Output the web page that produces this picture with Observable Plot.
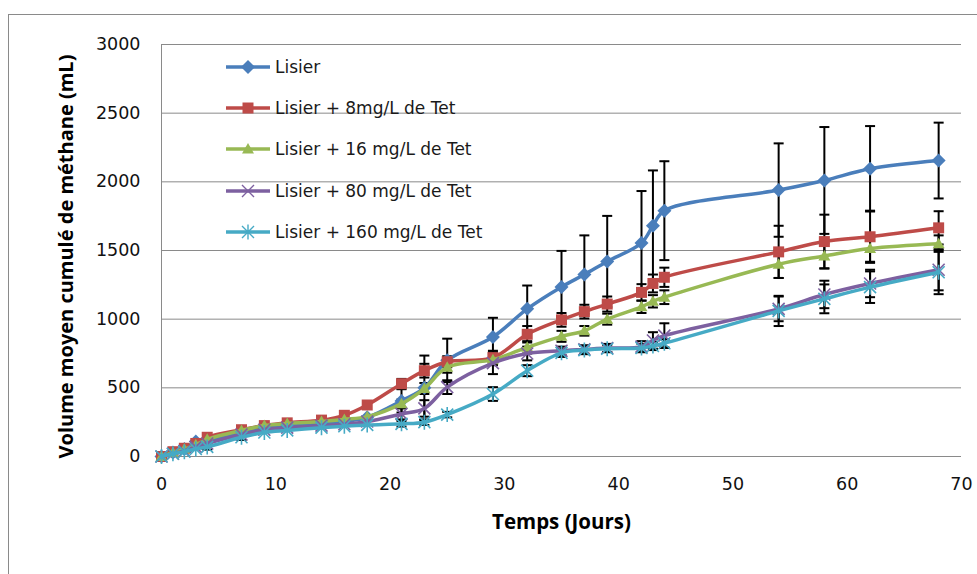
<!DOCTYPE html>
<html>
<head>
<meta charset="utf-8">
<script src="https://cdn.jsdelivr.net/npm/d3@7"></script>
<script src="https://cdn.jsdelivr.net/npm/@observablehq/plot@0.6"></script>
<style>
  html, body { margin: 0; padding: 0; background: #fff; }
  body { width: 977px; height: 574px; overflow: hidden; position: relative; }
  #frame { position: absolute; left: 8px; top: 14px; width: 1100px; height: 700px; border: 1px solid #8a8a8a; box-sizing: border-box; }
  #chart { position: absolute; left: 0; top: 0; }
  #legend { position: absolute; left: 222px; top: 56px; font-family: "DejaVu Sans", sans-serif; font-size: 17px; color: #1a1a1a; }
  #legend .row { height: 41.2px; display: flex; align-items: flex-start; white-space: nowrap; }
  #legend svg { display: block; margin-right: 1px; }
</style>
</head>
<body>
<div id="frame"></div>
<div id="chart"></div>
<div id="legend"></div>
<script>
// ---- data ----
const days = [0,1,2,3,4,7,9,11,14,16,18,21,23,25,29,32,35,37,39,42,43,44,54,58,62,68];
const seriesNames = ["Lisier","Lisier + 8mg/L de Tet","Lisier + 16 mg/L de Tet","Lisier + 80 mg/L de Tet","Lisier + 160 mg/L de Tet"];
const lisier    = [0,30,55,110,120,175,205,225,240,255,285,405,500,700,870,1075,1235,1325,1420,1555,1680,1790,1940,2010,2095,2155];
const lisier8   = [0,35,60,95,140,195,225,245,265,300,375,530,625,690,720,890,995,1055,1110,1195,1260,1305,1490,1565,1600,1665];
const lisier16  = [0,30,55,85,125,190,225,240,255,270,290,385,495,650,705,795,875,915,1000,1090,1130,1160,1400,1460,1515,1550];
const lisier80  = [0,20,40,70,95,160,195,210,225,235,255,310,350,505,680,750,770,780,790,800,845,880,1075,1180,1260,1360];
const lisier160 = [0,20,35,55,70,140,175,190,210,220,230,238,250,305,455,625,755,775,785,790,805,825,1060,1148,1233,1342];
const errLisier = [0,0,0,0,0,0,0,0,0,0,0,85,235,158,140,170,262,285,332,378,403,360,340,389,311,276];
const errL8     = [0,0,0,0,0,0,0,0,0,0,0,35,50,40,50,60,50,50,55,60,65,70,190,196,190,121];
const errL16    = [0,0,0,0,0,0,0,0,0,0,0,30,40,40,40,45,40,35,40,45,45,50,100,90,97,60];
const errL80    = [0,0,0,0,0,0,0,0,0,0,0,40,60,50,80,50,30,30,30,40,60,90,90,100,100,150];
const errL160   = [0,0,0,0,20,20,0,0,0,0,0,20,20,20,50,40,30,30,25,30,30,30,110,105,115,160];
const yTicks = [0,500,1000,1500,2000,2500,3000];
const xTicks = [0,10,20,30,40,50,60,70];

// ---- custom marker symbols (r = sqrt(size/PI)) ----
const R = s => Math.sqrt(s / Math.PI);
const symDiamond = {draw(c, s){ const r = R(s); c.moveTo(0,-r); c.lineTo(r,0); c.lineTo(0,r); c.lineTo(-r,0); c.closePath(); }};
const symSquare  = {draw(c, s){ const r = R(s); c.moveTo(-r,-r); c.lineTo(r,-r); c.lineTo(r,r); c.lineTo(-r,r); c.closePath(); }};
const symTri     = {draw(c, s){ const r = R(s); c.moveTo(0,-r); c.lineTo(r,r*0.75); c.lineTo(-r,r*0.75); c.closePath(); }};
const symTimes   = {draw(c, s){ const r = R(s); c.moveTo(-r,-r); c.lineTo(r,r); c.moveTo(r,-r); c.lineTo(-r,r); }};
const symStar    = {draw(c, s){ const r = R(s); c.moveTo(-r,-r); c.lineTo(r,r); c.moveTo(r,-r); c.lineTo(-r,r); c.moveTo(0,-r*1.25); c.lineTo(0,r*1.25); }};
const symCap     = {draw(c, s){ const r = R(s); c.moveTo(-r,0); c.lineTo(r,0); }};

const colors = ["#4A7EBB","#BE4B48","#98B954","#7D60A0","#46AAC5"];
const styles = [
  {symbol: symDiamond, r: 7,   filled: true},
  {symbol: symSquare,  r: 5.5, filled: true},
  {symbol: symTri,     r: 6,   filled: true},
  {symbol: symTimes,   r: 6,   filled: false},
  {symbol: symStar,    r: 6,   filled: false}
];
const valueSets = [lisier, lisier8, lisier16, lisier80, lisier160];
const errSets = [errLisier, errL8, errL16, errL80, errL160];

const rows = seriesNames.flatMap((name, k) => days.map((d, i) => ({series: name, k, day: d, value: valueSets[k][i], err: errSets[k][i]})));
const errRows = rows.filter(d => d.err > 0);

const gray = "#8a8a8a";
const marks = [
  Plot.gridY(yTicks.filter(v => v > 0), {stroke: gray, strokeOpacity: 1, strokeWidth: 1}),
  Plot.ruleY([0], {stroke: gray, strokeWidth: 1}),
  Plot.ruleX([0], {stroke: gray, strokeWidth: 1}),
  Plot.axisY(yTicks, {tickSize: 0, tickPadding: 21, fontSize: 17.5, fill: "#111", fontFamily: "DejaVu Sans", letterSpacing: "2px", tickFormat: d => String(d), label: null}),
  Plot.axisX(xTicks, {tickSize: 0, tickPadding: 21, fontSize: 17.5, fill: "#111", fontFamily: "DejaVu Sans", tickFormat: d => String(d), label: null}),
  Plot.text(["Volume moyen cumulé de méthane (mL)"], {frameAnchor: "left", dx: -95, dy: 6, rotate: -90, textAnchor: "middle", lineAnchor: "middle", fontWeight: "bold", fontSize: 20, fontFamily: "Open Sans", fill: "#000"}),
  Plot.text(["Temps (Jours)"], {frameAnchor: "bottom", dy: 66, textAnchor: "middle", lineAnchor: "middle", fontWeight: "bold", fontSize: 20.5, fontFamily: "Open Sans", fill: "#000"}),
  // error bars
  Plot.ruleX(errRows, {x: "day", y1: d => d.value - d.err, y2: d => d.value + d.err, stroke: "#000", strokeWidth: 2}),
  Plot.dot(errRows, {x: "day", y: d => d.value + d.err, symbol: symCap, r: 5, stroke: "#000", strokeWidth: 2}),
  Plot.dot(errRows, {x: "day", y: d => d.value - d.err, symbol: symCap, r: 5, stroke: "#000", strokeWidth: 2})
];
seriesNames.forEach((name, k) => {
  const data = rows.filter(d => d.k === k);
  const st = styles[k];
  marks.push(Plot.line(data, {x: "day", y: "value", stroke: colors[k], strokeWidth: 3.5, curve: "catmull-rom"}));
  marks.push(Plot.dot(data, st.filled
    ? {x: "day", y: "value", symbol: st.symbol, r: st.r, fill: colors[k], stroke: "none"}
    : {x: "day", y: "value", symbol: st.symbol, r: st.r, fill: "none", stroke: colors[k], strokeWidth: 1.6}));
});

const chart = Plot.plot({
  width: 977, height: 574,
  marginLeft: 161, marginRight: 16, marginTop: 44, marginBottom: 118,
  x: {domain: [0, 70], label: null},
  y: {domain: [0, 3000], label: null},
  style: {fontFamily: "DejaVu Sans", background: "transparent", overflow: "visible"},
  marks
});
document.getElementById("chart").appendChild(chart);

// ---- legend ----
const legend = document.getElementById("legend");
seriesNames.forEach((name, k) => {
  const row = document.createElement("div");
  row.className = "row";
  const st = styles[k];
  const path = d3.symbol(st.symbol, Math.PI * st.r * st.r)();
  const svg = d3.create("svg").attr("width", 52).attr("height", 22);
  svg.append("line").attr("x1", 4).attr("x2", 48).attr("y1", 11).attr("y2", 11).attr("stroke", colors[k]).attr("stroke-width", 3.5);
  svg.append("path").attr("d", path).attr("transform", "translate(26,11)")
    .attr("fill", st.filled ? colors[k] : "none").attr("stroke", st.filled ? "none" : colors[k]).attr("stroke-width", 1.4);
  row.appendChild(svg.node());
  const span = document.createElement("span");
  span.textContent = name;
  span.style.lineHeight = "22px";
  row.appendChild(span);
  legend.appendChild(row);
});
</script>
</body>
</html>
